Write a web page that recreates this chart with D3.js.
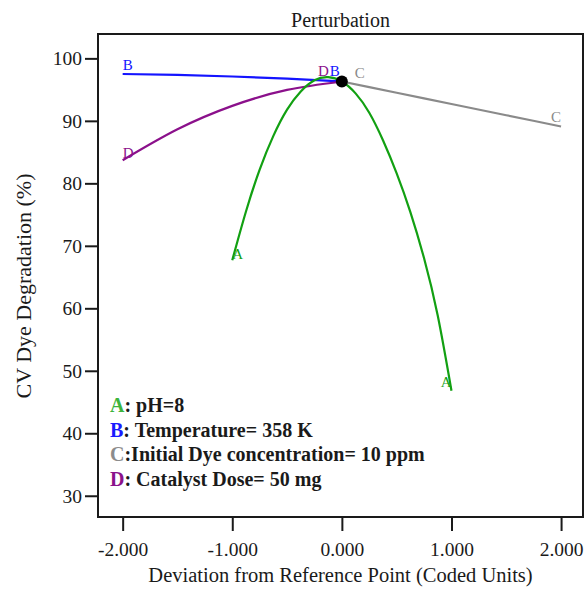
<!DOCTYPE html>
<html>
<head>
<meta charset="utf-8">
<script src="https://cdn.jsdelivr.net/npm/d3@7/dist/d3.min.js"></script>
<style>
  html, body { margin: 0; padding: 0; background: #fff; }
  svg { display: block; font-family: "Liberation Serif", "Times New Roman", serif; }
</style>
</head>
<body>
<svg id="chart" width="587" height="591"></svg>
<script>
// Perturbation trace data: deviation (coded units) vs CV dye degradation (%)
const xA = [-1, -0.875, -0.75, -0.625, -0.5, -0.375, -0.25, -0.125, 0, 0.125, 0.25, 0.375, 0.5, 0.625, 0.75, 0.875, 1];
const yA = [67.7, 75.5, 82.2, 87.6, 91.8, 94.7, 96.5, 97.0, 96.3, 94.4, 91.3, 86.9, 81.6, 75.4, 68.0, 58.8, 46.8];

const xB = [-2, -1.5, -1, -0.5, 0];
const yB = [97.5, 97.35, 97.1, 96.75, 96.3];

const xC = [0, 0.5, 1, 1.5, 2];
const yC = [96.3, 94.5, 92.7, 90.9, 89.1];

const xD = [-2, -1.5, -1, -0.5, 0];
const yD = [83.7, 88.65, 92.4, 94.95, 96.3];

const refPoint = { x: 0, y: 96.3 };

const xTicks = [-2, -1, 0, 1, 2];
const yTicks = [30, 40, 50, 60, 70, 80, 90, 100];

const legendItems = [
  { key: "A", text: ": pH=8", color: "#3cb43c" },
  { key: "B", text: ": Temperature= 358 K", color: "#1a1aff" },
  { key: "C", text: ":Initial Dye concentration= 10 ppm", color: "#8c8c8c" },
  { key: "D", text: ": Catalyst Dose= 50 mg", color: "#8b128b" }
];

const colors = { A: "#12a012", B: "#1414ff", C: "#8a8a8a", D: "#8b108b" };

const svg = d3.select("#chart");
const plotL = 98, plotR = 583, plotT = 34, plotB = 517;

const x = d3.scaleLinear().domain([-2.225, 2.2]).range([plotL, plotR]);
const y = d3.scaleLinear().domain([26.6, 103.9]).range([plotB, plotT]);

const textColor = "#1a1a1a";

// Axes with outward ticks
svg.append("g")
  .attr("transform", `translate(0,${plotB})`)
  .call(d3.axisBottom(x).tickValues(xTicks).tickSize(14).tickPadding(11)
      .tickFormat(d => (d < 0 ? "-" : "") + d3.format(".3f")(Math.abs(d))))
  .call(g => g.select(".domain").remove())
  .call(g => g.selectAll("line").attr("stroke", textColor).attr("stroke-width", 2))
  .call(g => g.selectAll("text").attr("font-size", 19.5).attr("fill", textColor)
      .attr("font-family", "Liberation Serif, serif"));

svg.append("g")
  .attr("transform", `translate(${plotL},0)`)
  .call(d3.axisLeft(y).tickValues(yTicks).tickSize(13).tickPadding(3))
  .call(g => g.select(".domain").remove())
  .call(g => g.selectAll("line").attr("stroke", textColor).attr("stroke-width", 2))
  .call(g => g.selectAll("text").attr("font-size", 19.5).attr("fill", textColor)
      .attr("font-family", "Liberation Serif, serif"));

// Plot frame
svg.append("rect")
  .attr("x", plotL).attr("y", plotT)
  .attr("width", plotR - plotL).attr("height", plotB - plotT)
  .attr("fill", "none").attr("stroke", textColor).attr("stroke-width", 2);

// Traces
const line = d3.line().x(d => x(d[0])).y(d => y(d[1])).curve(d3.curveNatural);
const series = [
  { key: "B", xs: xB, ys: yB },
  { key: "D", xs: xD, ys: yD },
  { key: "C", xs: xC, ys: yC },
  { key: "A", xs: xA, ys: yA }
];
series.forEach(s => {
  svg.append("path")
    .datum(d3.zip(s.xs, s.ys))
    .attr("d", line)
    .attr("fill", "none")
    .attr("stroke", colors[s.key])
    .attr("stroke-width", 2.2);
});

// Reference point
svg.append("circle")
  .attr("cx", x(refPoint.x)).attr("cy", y(refPoint.y)).attr("r", 6)
  .attr("fill", "#000");

// End labels on each trace
const endLabels = [
  { key: "B", px: xB[0], py: yB[0], dx: 0, dy: -4, anchor: "start" },
  { key: "D", px: xD[0], py: yD[0], dx: 0, dy: -2, anchor: "start" },
  { key: "A", px: xA[0], py: yA[0], dx: 0, dy: -1, anchor: "start" },
  { key: "A", px: xA[xA.length - 1], py: yA[yA.length - 1], dx: 0, dy: -4, anchor: "end" },
  { key: "C", px: xC[xC.length - 1], py: yC[yC.length - 1], dx: 0, dy: -4, anchor: "end" },
  { key: "D", px: xD[xD.length - 1], py: yD[yD.length - 1], dx: -13, dy: -5, anchor: "end" },
  { key: "B", px: xB[xB.length - 1], py: yB[yB.length - 1], dx: -12, dy: -5, anchor: "start" },
  { key: "C", px: xC[0], py: yC[0], dx: 13, dy: -3, anchor: "start" }
];
svg.append("g").selectAll("text")
  .data(endLabels)
  .join("text")
  .attr("x", d => x(d.px) + d.dx)
  .attr("y", d => y(d.py) + d.dy)
  .attr("text-anchor", d => d.anchor)
  .attr("font-size", 15)
  .attr("fill", d => colors[d.key])
  .text(d => d.key);

// Legend
const legend = svg.append("g").attr("font-weight", "bold").attr("font-size", 20);
legendItems.forEach((item, i) => {
  const t = legend.append("text")
    .attr("x", 110)
    .attr("y", 412 + i * 24.5)
    .attr("fill", textColor);
  t.append("tspan").attr("fill", item.color).text(item.key);
  t.append("tspan").text(item.text);
});

// Titles
svg.append("text")
  .attr("x", 340.5).attr("y", 26.5)
  .attr("text-anchor", "middle")
  .attr("font-size", 20)
  .attr("fill", textColor)
  .text("Perturbation");

svg.append("text")
  .attr("x", 340.5).attr("y", 582)
  .attr("text-anchor", "middle")
  .attr("font-size", 20.5)
  .attr("fill", textColor)
  .text("Deviation from Reference Point (Coded Units)");

svg.append("text")
  .attr("transform", "translate(31,286) rotate(-90)")
  .attr("text-anchor", "middle")
  .attr("font-size", 22)
  .attr("fill", textColor)
  .text("CV Dye Degradation (%)");
</script>
</body>
</html>
